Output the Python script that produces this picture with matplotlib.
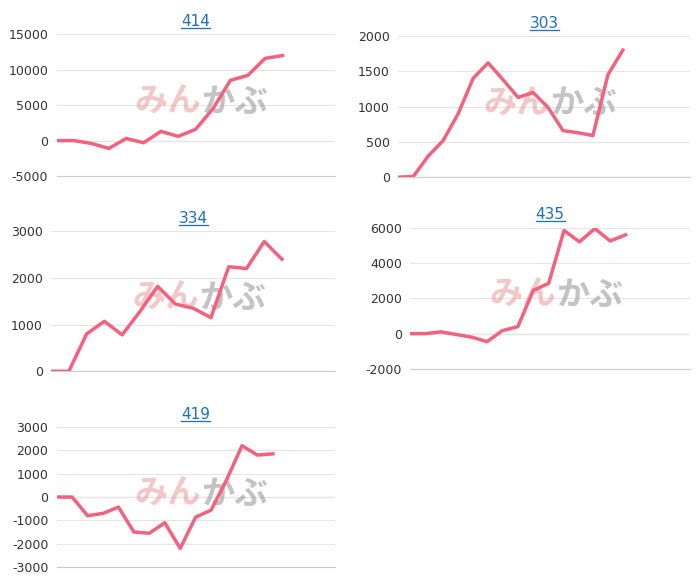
import matplotlib.pyplot as plt

titles = ["414", "303", "334", "435", "419"]
values = [
    [0, 0, -400, -1100, 300, -300, 1300, 600, 1600, 4500, 8500, 9200, 11600, 12000],
    [0, 10, 300, 520, 900, 1400, 1620, 1380, 1130, 1200, 990, 660, 630, 590, 1450, 1800],
    [0, 0, 800, 1070, 780, 1280, 1820, 1440, 1350, 1150, 2240, 2200, 2780, 2400],
    [0, 0, 100, -50, -200, -450, 170, 400, 2450, 2850, 5850, 5200, 5950, 5250, 5600],
    [0, 0, -800, -700, -430, -1500, -1550, -1100, -2200, -860, -560, 730, 2200, 1800, 1850],
]
ylims = [(-5000, 15000), (0, 2000), (0, 3000), (-2000, 6000), (-3000, 3000)]
ysteps = [5000, 500, 1000, 2000, 1000]
xmax = [16, 19.5, 16, 18.2, 18]
boxes = [
    (0.081, 0.697, 0.397, 0.244),
    (0.569, 0.695, 0.417, 0.243),
    (0.073, 0.361, 0.406, 0.241),
    (0.586, 0.365, 0.400, 0.243),
    (0.081, 0.024, 0.397, 0.241),
]

fig = plt.figure(figsize=(7, 5.81), dpi=100)
for t, v, yl, st, xm, b in zip(titles, values, ylims, ysteps, xmax, boxes):
    ax = fig.add_axes(b)
    ax.plot(range(len(v)), v, color="#f4617c", lw=2.5, zorder=3)
    ax.set_xlim(0, xm)
    ax.set_ylim(*yl)
    ticks = list(range(yl[0], yl[1] + 1, st))
    ax.set_yticks(ticks)
    ax.set_yticklabels([str(k) for k in ticks], fontsize=9, color="#333333")
    ax.set_xticks([])
    ax.grid(axis="y", color="#e5e5e5", lw=0.8)
    for s in ["top", "right", "left"]:
        ax.spines[s].set_visible(False)
    ax.spines["bottom"].set_color("#cccccc")
    ax.tick_params(axis="y", length=0, pad=6)
    ax.axhline(0, color="#bbbbbb", lw=0.8, zorder=1)
    ax.set_title(t, fontsize=11, color="#1a6fc4", pad=6,
                 fontdict={"family": "DejaVu Sans"})
    ax.title.set_fontproperties(ax.title.get_fontproperties())
    ax.title.set_url(None)
    ttl = ax.title
    ttl.set_text(t)
    # watermark
    ax.text(0.52, 0.52, "みん", transform=ax.transAxes, fontsize=24,
            family=["Noto Sans CJK JP"], weight="bold", color="#e57373",
            alpha=0.4, ha="right", va="center", style="italic", zorder=2)
    ax.text(0.52, 0.52, "かぶ", transform=ax.transAxes, fontsize=24,
            family=["Noto Sans CJK JP"], weight="bold", color="#888888",
            alpha=0.5, ha="left", va="center", style="italic", zorder=2)
    ax.annotate("", xy=(0.5, 1.045), xytext=(0.5, 1.045))

# underline titles
fig.canvas.draw()
for ax in fig.axes:
    bb = ax.title.get_window_extent().transformed(fig.transFigure.inverted())
    fig.add_artist(plt.Line2D([bb.x0, bb.x1], [bb.y0 + 0.002, bb.y0 + 0.002],
                              color="#1a6fc4", lw=0.9))

fig.savefig("out.png", dpi=100)
